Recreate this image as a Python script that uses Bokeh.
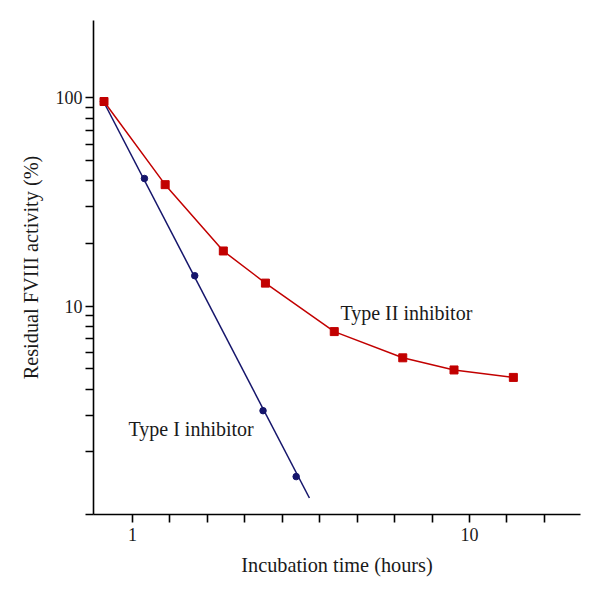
from bokeh.plotting import figure
from bokeh.models import FixedTicker, CustomJSTickFormatter, Range1d
from bokeh.core.properties import value
from bokeh.embed import file_html
from bokeh.resources import INLINE

# ---- data ----
type1_time = [0.82, 1.085, 1.53, 2.44, 3.06]
type1_activity = [96.0, 41.0, 14.0, 3.15, 1.52]
type1_fit_time = [0.82, 3.35]
type1_fit_activity = [96.0, 1.20]

type2_time = [0.823, 1.25, 1.86, 2.48, 3.97, 6.34, 9.0, 13.5]
type2_activity = [96.0, 38.3, 18.4, 12.9, 7.55, 5.65, 4.94, 4.55]

x_ticks = [10 ** (k / 9) for k in range(0, 12)]
x_labelled = [1, 10]
y_ticks = [1, 2, 3, 4, 5, 6, 7, 8, 9, 10, 20, 30, 40, 50, 60, 70, 80, 90, 100]
y_labelled = [10, 100]

label1 = "Type I inhibitor"
label2 = "Type II inhibitor"

BLUE = "#15156b"
RED = "#c20000"
FONT = "Liberation Serif"
TXT = "#1a1a1a"

p = figure(width=584, height=584, x_axis_type="log", y_axis_type="log",
           x_range=Range1d(0.766, 21.36), y_range=Range1d(1.0, 235.0),
           output_backend="svg", toolbar_location=None,
           min_border_left=93, min_border_right=4, min_border_top=20,
           min_border_bottom=70)
p.outline_line_color = None
p.xgrid.visible = False
p.ygrid.visible = False
p.background_fill_color = "white"
p.border_fill_color = "white"

p.line(type1_fit_time, type1_fit_activity, line_color=BLUE, line_width=1.5)
p.line(type2_time, type2_activity, line_color=RED, line_width=1.5)
p.scatter(type1_time, type1_activity, marker="circle", size=6.5,
          fill_color=BLUE, line_color=BLUE)
p.scatter(type2_time, type2_activity, marker="square", size=8,
          fill_color=RED, line_color=RED)

p.text(x=[4.14], y=[9.3], text=[label2], text_font=value(FONT),
       text_font_size="20px", text_color=TXT, text_baseline="alphabetic",
       text_align="left")
p.text(x=[0.973], y=[2.56], text=[label1], text_font=value(FONT),
       text_font_size="20px", text_color=TXT, text_baseline="alphabetic",
       text_align="left")

for ax, ticks, labelled in ((p.xaxis[0], x_ticks, x_labelled), (p.yaxis[0], y_ticks, y_labelled)):
    ax.ticker = FixedTicker(ticks=ticks, minor_ticks=[])
    ax.formatter = CustomJSTickFormatter(args=dict(keep=labelled), code="""
        for (const k of keep) { if (Math.abs(tick - k) < 1e-6 * k) return String(k); }
        return "";
    """)
    ax.axis_line_color = "black"
    ax.axis_line_width = 1.6
    ax.major_tick_line_color = "black"
    ax.major_tick_line_width = 1.6
    ax.major_tick_in = 0
    ax.major_tick_out = 8
    ax.minor_tick_line_color = None
    ax.major_label_text_font = FONT
    ax.major_label_text_font_size = "18px"
    ax.major_label_text_color = TXT
    ax.axis_label_text_font = FONT
    ax.axis_label_text_font_size = "20.3px"
    ax.axis_label_text_font_style = "normal"
    ax.axis_label_text_color = TXT

p.xaxis.axis_label = "Incubation time (hours)"
p.yaxis.axis_label = "Residual FVIII activity (%)"
p.xaxis.major_label_standoff = 5
p.yaxis.major_label_standoff = 3
p.xaxis.axis_label_standoff = 10
p.yaxis.axis_label_standoff = 11

open("out.html", "w").write(file_html(p, INLINE))
